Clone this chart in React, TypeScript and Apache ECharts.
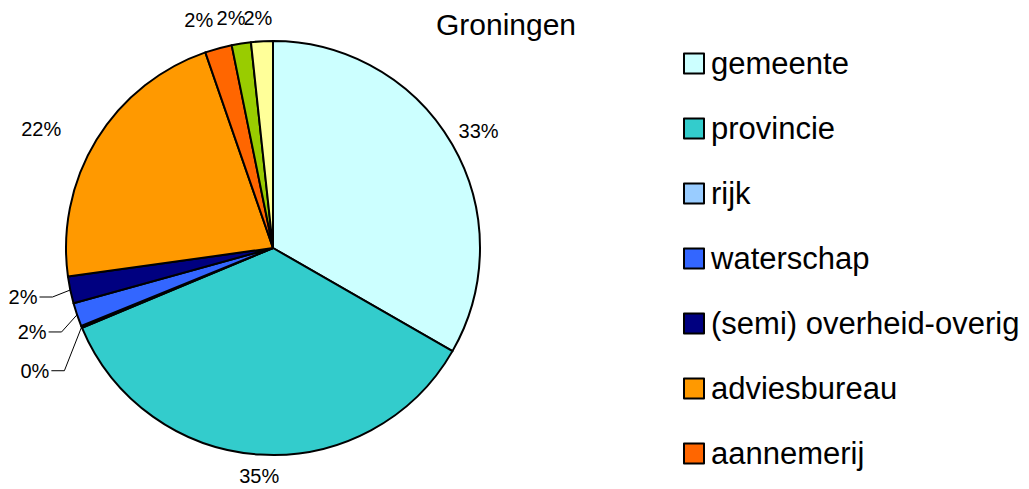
import React, { useEffect, useRef } from "react";
import * as echarts from "echarts";

const titleText = "Groningen";
const categories = [
  "gemeente",
  "provincie",
  "rijk",
  "waterschap",
  "(semi) overheid-overig",
  "adviesbureau",
  "aannemerij",
  "onderwijs",
  "overig",
];
const values = [33.3, 35.4, 0.15, 1.85, 2.1, 21.9, 2.1, 1.5, 1.7];
const colors = [
  "#CCFFFF",
  "#33CCCC",
  "#99CCFF",
  "#3366FF",
  "#000080",
  "#FF9900",
  "#FF6600",
  "#99CC00",
  "#FFFF99",
];
const legendNames = categories.slice(0, 7);
const leaderLineItems = ["rijk", "waterschap", "(semi) overheid-overig"];

const CENTER: [number, number] = [273, 248];
const RADIUS = 207;

export default function App() {
  const ref = useRef<HTMLDivElement>(null);
  useEffect(() => {
    if (!ref.current) return;
    const chart = echarts.init(ref.current, null, { renderer: "svg" });
    // label nudges (dx, dy) to mimic the original label placement
    const nudges: Record<number, [number, number]> = {
      0: [-9, -7],
      1: [25, 9],
      2: [4, 40],
      3: [6, 14],
      4: [4, 5],
      5: [-20, -5],
      6: [3, -17],
      7: [11, -14],
      8: [16, -11],
    };
    const total = values.reduce((a, b) => a + b, 0);
    const midAngle = (i: number) => {
      let before = 0;
      for (let k = 0; k < i; k++) before += values[k];
      return ((before + values[i] / 2) / total) * Math.PI * 2;
    };
    const data = categories.map((name, i) => {
      const item: any = {
        name,
        value: values[i],
        itemStyle: { color: colors[i] },
      };
      if (leaderLineItems.includes(name)) {
        item.labelLine = { show: true, length: 10, length2: 22 };
      }
      return item;
    });
    chart.setOption({
      animation: false,
      backgroundColor: "#ffffff",
      textStyle: { fontFamily: "Liberation Sans, Arial, sans-serif" },
      title: {
        text: titleText,
        left: 501,
        top: 4,
        textAlign: "center",
        textStyle: {
          fontSize: 30,
          fontWeight: "normal",
          color: "#000",
          fontFamily: "Liberation Sans, Arial, sans-serif",
        },
      },
      legend: {
        data: legendNames,
        orient: "vertical",
        left: 678,
        top: 43,
        itemWidth: 20,
        itemHeight: 20,
        itemGap: 34,
        icon: "rect",
        itemStyle: { borderColor: "#000", borderWidth: 2 },
        textStyle: {
          fontSize: 31,
          lineHeight: 31,
          padding: [0, 0, 0, 2],
          color: "#000",
          fontFamily: "Liberation Sans, Arial, sans-serif",
        },
      },
      series: [
        {
          type: "pie",
          center: CENTER,
          radius: RADIUS,
          startAngle: 90,
          clockwise: true,
          avoidLabelOverlap: false,
          itemStyle: { borderColor: "#000", borderWidth: 2 },
          label: {
            show: true,
            position: "outside",
            fontSize: 20,
            color: "#000",
            fontFamily: "Liberation Sans, Arial, sans-serif",
            formatter: (p: any) => Math.round(p.percent) + "%",
          },
          labelLine: {
            show: false,
            length: 12,
            length2: 0,
            lineStyle: { color: "#000", width: 1 },
          },
          labelLayout: (params: any) => {
            const i = params.dataIndex;
            const n = nudges[i];
            if (!n) return {};
            const out: any = { dx: n[0], dy: n[1] };
            if (leaderLineItems.includes(categories[i]) && params.labelRect) {
              const a = midAngle(i);
              const p0 = [
                CENTER[0] + RADIUS * Math.sin(a),
                CENTER[1] - RADIUS * Math.cos(a),
              ];
              const r = params.labelRect;
              const p2 = [r.x + r.width + n[0] + 2, r.y + r.height / 2 + n[1]];
              const p1 = [p2[0] + 13, p2[1]];
              out.labelLinePoints = [p0, p1, p2];
            }
            return out;
          },
          emphasis: { disabled: true },
          data,
        },
      ],
    });
    return () => chart.dispose();
  }, []);
  return (
    <div
      ref={ref}
      style={{ position: "absolute", left: 0, top: 0, width: 1029, height: 489 }}
    />
  );
}
